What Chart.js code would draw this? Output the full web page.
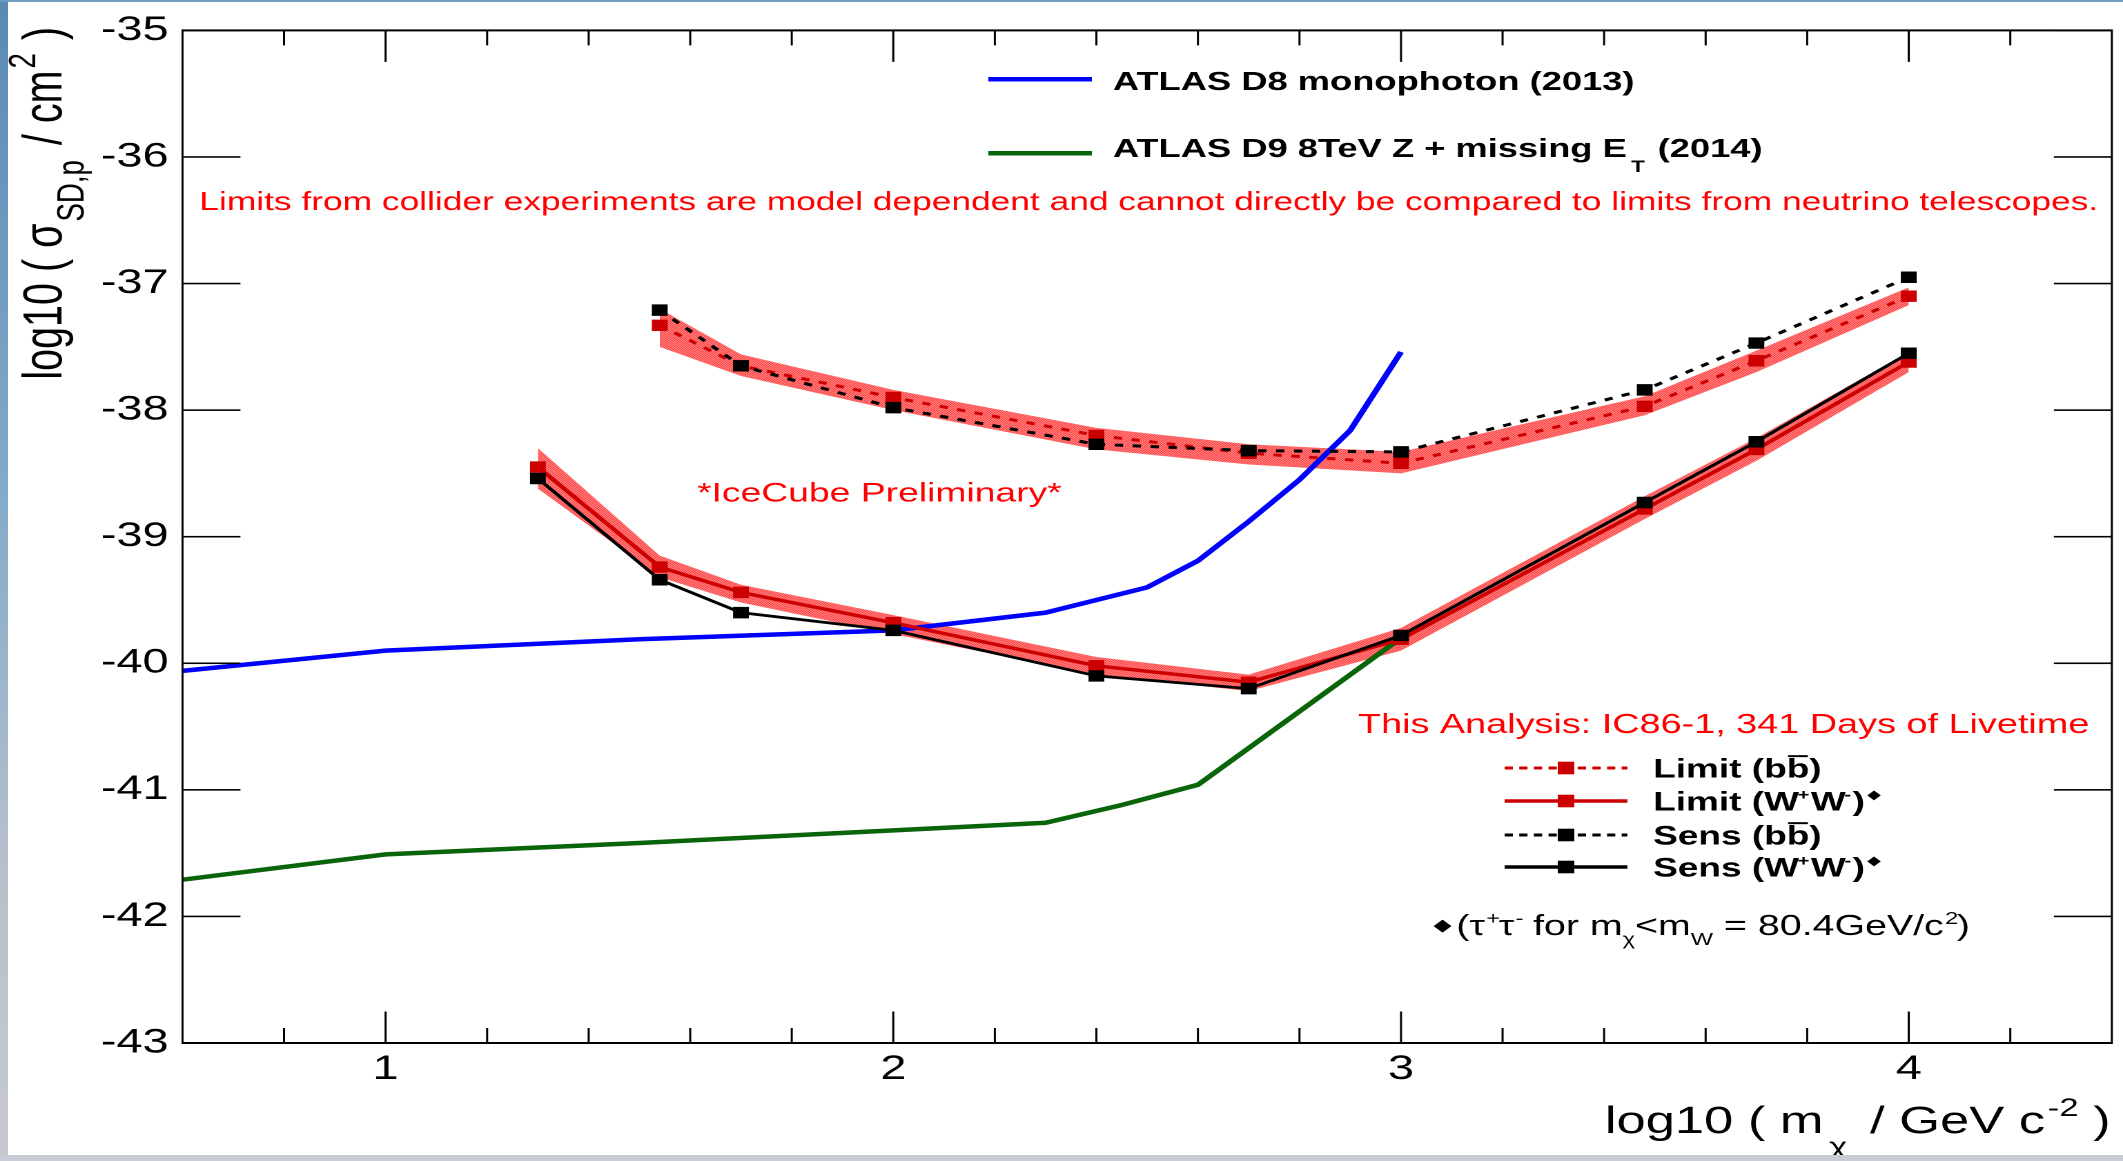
<!DOCTYPE html>
<html>
<head>
<meta charset="utf-8">
<title>IceCube spin-dependent WIMP-proton cross-section limits</title>
<script src="https://cdn.jsdelivr.net/npm/chart.js@4.4.1/dist/chart.umd.min.js"></script>
<style>
  html, body { margin: 0; padding: 0; background: #ffffff; overflow: hidden; }
  #page { position: relative; width: 2123px; height: 1161px; overflow: hidden; background: #ffffff; }
  /* the plot is laid out on a 1538 px wide stage and widened to the page width */
  #stage { position: absolute; left: 0; top: 0; width: 1538px; height: 1161px;
           transform: scaleX(1.38036); transform-origin: 0 0; }
  #edgeL { position: absolute; left: 0; top: 0; width: 8px; height: 1161px; z-index: 2;
           background: linear-gradient(#5a89b3, #7fa9c9 40%, #b7c0cc 75%, #c7c9d0); }
  #edgeT { position: absolute; left: 0; top: 0; width: 2123px; height: 2px; z-index: 2; background: #6f9cc2; }
  #edgeB { position: absolute; left: 0; top: 1155px; width: 2123px; height: 6px; z-index: 2; background: #c9ccd4; }
</style>
</head>
<body>
<div id="page">
  <div id="stage"><canvas id="chart"></canvas></div>
  <div id="edgeL"></div><div id="edgeT"></div><div id="edgeB"></div>
</div>
<script>
// ---- data: log10(m_chi / GeV) and log10(sigma_SD,p / cm^2) ----
const logMassWW = [1.30, 1.54, 1.70, 2.00, 2.40, 2.70, 3.00, 3.48, 3.70, 4.00];
const logMassBB = [1.54, 1.70, 2.00, 2.40, 2.70, 3.00, 3.48, 3.70, 4.00];

const limitBB     = [-37.33, -37.65, -37.90, -38.20, -38.34, -38.42, -37.97, -37.61, -37.10];
const sensBB      = [-37.21, -37.65, -37.98, -38.27, -38.32, -38.33, -37.84, -37.47, -36.95];
const limitBBHigh = [-37.20, -37.56, -37.84, -38.14, -38.27, -38.33, -37.89, -37.53, -37.03];
const limitBBLow  = [-37.50, -37.73, -38.00, -38.31, -38.43, -38.50, -38.04, -37.70, -37.17];

const limitWW     = [-38.45, -39.24, -39.44, -39.68, -40.02, -40.15, -39.81, -38.78, -38.31, -37.62];
const sensWW      = [-38.54, -39.34, -39.60, -39.74, -40.10, -40.20, -39.78, -38.73, -38.25, -37.55];
const limitWWHigh = [-38.30, -39.15, -39.38, -39.62, -39.95, -40.09, -39.72, -38.68, -38.22, -37.54];
const limitWWLow  = [-38.62, -39.32, -39.52, -39.77, -40.09, -40.22, -39.90, -38.86, -38.40, -37.70];

const atlasD8LogMass = [0.6, 1.0, 1.5, 2.0, 2.3, 2.5, 2.6, 2.7, 2.8, 2.9, 3.0];
const atlasD8Sigma   = [-40.06, -39.90, -39.81, -39.74, -39.60, -39.40, -39.19, -38.88, -38.55, -38.16, -37.54];
const atlasD9LogMass = [0.6, 1.0, 1.5, 2.0, 2.3, 2.45, 2.6, 3.0];
const atlasD9Sigma   = [-41.71, -41.51, -41.42, -41.32, -41.26, -41.12, -40.96, -39.80];

const xTickValues = [1, 2, 3, 4];
const yTickValues = [-43, -42, -41, -40, -39, -38, -37, -36, -35];
const xMinorStep = 0.2;

// ---- helpers ----
const FONT = "'Liberation Sans', Arial, Helvetica, sans-serif";
const pts = (xs, ys) => xs.map((x, i) => ({ x: x, y: ys[i] }));

const canvas = document.getElementById('chart');
const ctx0 = canvas.getContext('2d');

// hatched red fill used for the systematic bands
const tile = document.createElement('canvas');
tile.width = 2; tile.height = 2;
const tg = tile.getContext('2d');
tg.fillStyle = '#ffc8c8'; tg.fillRect(0, 0, 2, 2);
tg.fillStyle = '#ff0000'; tg.fillRect(0, 0, 1, 1); tg.fillRect(1, 1, 1, 1);
const bandFill = ctx0.createPattern(tile, 'repeat');

// text with sub/superscripts; parts: {t, s:'sub'|'sup', scale, dy, gap, over}
function drawRich(ctx, parts, x, y, size, weight, align) {
  const fontFor = (p) => `${weight} ${p.s ? size * (p.scale || 0.66) : (p.size || size)}px ${FONT}`;
  const widths = parts.map(p => { ctx.font = fontFor(p); return ctx.measureText(p.t).width + (p.gap || 0); });
  const total = widths.reduce((a, b) => a + b, 0);
  let cx = align === 'right' ? x - total : x;
  ctx.textAlign = 'left';
  ctx.textBaseline = 'alphabetic';
  parts.forEach((p, i) => {
    ctx.font = fontFor(p);
    let dy = 0;
    if (p.s === 'sub') dy = (p.dy !== undefined ? p.dy : size * 0.35);
    if (p.s === 'sup') dy = (p.dy !== undefined ? p.dy : -size * 0.42);
    ctx.fillText(p.t, cx + (p.pre || 0), y + dy);
    if (p.over) {
      const w = ctx.measureText(p.t).width;
      ctx.save();
      ctx.lineWidth = 2;
      ctx.strokeStyle = ctx.fillStyle;
      ctx.beginPath();
      ctx.moveTo(cx + (p.pre || 0) + 1, y - size * 0.80);
      ctx.lineTo(cx + (p.pre || 0) + w - 1, y - size * 0.80);
      ctx.stroke();
      ctx.restore();
    }
    cx += widths[i];
  });
  return total;
}

// frame and inward ticks on all four sides
const frameTicks = {
  id: 'frameTicks',
  afterDatasetsDraw(chart) {
    const { ctx, chartArea: a, scales: { x, y } } = chart;
    ctx.save();
    ctx.fillStyle = '#000000';
    const hw = 1.45, hh = 2;           // vertical / horizontal stroke thickness
    ctx.fillRect(a.left - hw / 2, a.top - hh / 2, hw, a.bottom - a.top + hh);
    ctx.fillRect(a.right - hw / 2, a.top - hh / 2, hw, a.bottom - a.top + hh);
    ctx.fillRect(a.left, a.top - hh / 2, a.right - a.left, hh);
    ctx.fillRect(a.left, a.bottom - hh / 2, a.right - a.left, hh);
    // x ticks
    for (let v = x.min + xMinorStep; v < x.max - 1e-6; v += xMinorStep) {
      const major = Math.abs(v - Math.round(v)) < 1e-6;
      const len = major ? 31.5 : 15;
      const px = x.getPixelForValue(v);
      ctx.fillRect(px - 0.75, a.bottom - len, 1.5, len);
      ctx.fillRect(px - 0.75, a.top, 1.5, len);
    }
    // y ticks
    yTickValues.forEach(v => {
      const py = y.getPixelForValue(v);
      ctx.fillRect(a.left, py - 0.8, 42, 1.6);
      ctx.fillRect(a.right - 42, py - 0.8, 42, 1.6);
    });
    ctx.restore();
  }
};

// axis titles, legends and notes
const annotations = {
  id: 'annotations',
  afterDraw(chart) {
    const ctx = chart.ctx;
    ctx.save();

    // axis titles
    ctx.fillStyle = '#000000';
    drawRich(ctx, [
      { t: 'log10 ( m' },
      { t: '\u03C7', s: 'sub', scale: 0.66, dy: 22, pre: 4, gap: 10 },
      { t: ' / GeV c' },
      { t: '-2', s: 'sup', scale: 0.66, dy: -17, pre: 2, gap: 2 },
      { t: ' )' }
    ], 1529, 1133, 38, 'normal', 'right');

    ctx.save();
    ctx.translate(44.7, 27);
    ctx.rotate(-Math.PI / 2);
    drawRich(ctx, [
      { t: 'log10 ( \u03C3' },
      { t: 'SD,p', s: 'sub', scale: 0.7, dy: 16, pre: 2, gap: 6 },
      { t: ' / cm' },
      { t: '2', s: 'sup', scale: 0.7, dy: -19, pre: 2, gap: 4 },
      { t: ' )' }
    ], 0, 0, 39.5, 'normal', 'right');
    ctx.restore();

    // collider legend
    ctx.lineWidth = 4.5;
    ctx.strokeStyle = '#0000ff';
    ctx.beginPath(); ctx.moveTo(716, 79.3); ctx.lineTo(791, 79.3); ctx.stroke();
    ctx.strokeStyle = '#0a640a';
    ctx.beginPath(); ctx.moveTo(716, 153.3); ctx.lineTo(791, 153.3); ctx.stroke();
    ctx.fillStyle = '#000000';
    drawRich(ctx, [{ t: 'ATLAS D8 monophoton (2013)' }], 806.2, 90, 26.3, 'bold', 'left');
    drawRich(ctx, [
      { t: 'ATLAS D9 8TeV Z + missing E' },
      { t: 'T', s: 'sub', scale: 0.62, dy: 15, pre: 3, gap: 5 },
      { t: ' (2014)' }
    ], 806.2, 156.8, 26.3, 'bold', 'left');

    // red notes
    ctx.fillStyle = '#ff0000';
    drawRich(ctx, [{ t: 'Limits from collider experiments are model dependent and cannot directly be compared to limits from neutrino telescopes.' }],
      144.4, 210, 25.6, 'normal', 'left');
    drawRich(ctx, [{ t: '*IceCube Preliminary*' }], 505, 501.4, 27, 'normal', 'left');
    drawRich(ctx, [{ t: 'This Analysis: IC86-1, 341 Days of Livetime' }], 983.8, 732.8, 27.4, 'normal', 'left');

    // IceCube legend
    const rows = [
      { y: 768, color: '#cc0000', dash: true,  parts: [{ t: 'Limit (b' }, { t: 'b', over: true }, { t: ')' }] },
      { y: 801, color: '#cc0000', dash: false, parts: [{ t: 'Limit (W' }, { t: '+', s: 'sup', scale: 0.55, dy: -11, pre: -1 }, { t: 'W' }, { t: '-', s: 'sup', scale: 0.55, dy: -11, pre: -1 }, { t: ')' }, { t: '\u25C6', s: 'sup', scale: 0.45, dy: -12, pre: 2 }] },
      { y: 835, color: '#000000', dash: true,  parts: [{ t: 'Sens (b' }, { t: 'b', over: true }, { t: ')' }] },
      { y: 867, color: '#000000', dash: false, parts: [{ t: 'Sens (W' }, { t: '+', s: 'sup', scale: 0.55, dy: -11, pre: -1 }, { t: 'W' }, { t: '-', s: 'sup', scale: 0.55, dy: -11, pre: -1 }, { t: ')' }, { t: '\u25C6', s: 'sup', scale: 0.45, dy: -12, pre: 2 }] }
    ];
    rows.forEach(r => {
      ctx.save();
      ctx.strokeStyle = r.color;
      ctx.fillStyle = r.color;
      ctx.lineWidth = r.dash ? 3 : 3.5;
      ctx.setLineDash(r.dash ? [6, 4.6] : []);
      ctx.beginPath(); ctx.moveTo(1090, r.y); ctx.lineTo(1179, r.y); ctx.stroke();
      ctx.setLineDash([]);
      ctx.fillRect(1134.5 - 6, r.y - 6.3, 12, 12.6);
      ctx.restore();
      ctx.fillStyle = '#000000';
      drawRich(ctx, r.parts, 1197.6, r.y + 9.6, 26.8, 'bold', 'left');
    });

    // footnote
    ctx.fillStyle = '#000000';
    ctx.font = `17px 'DejaVu Sans', ${FONT}`;
    ctx.textAlign = 'center';
    ctx.textBaseline = 'middle';
    ctx.fillText('\u25C6', 1045, 926);
    drawRich(ctx, [
      { t: '(\u03C4' },
      { t: '+', s: 'sup', scale: 0.6, dy: -11, pre: 1 },
      { t: '\u03C4' },
      { t: '-', s: 'sup', scale: 0.6, dy: -11, pre: 1 },
      { t: ' for m' },
      { t: '\u03C7', s: 'sub', scale: 0.6, dy: 10 },
      { t: '<m' },
      { t: 'W', s: 'sub', scale: 0.6, dy: 10 },
      { t: ' = 80.4GeV/c' },
      { t: '2', s: 'sup', scale: 0.6, dy: -11, pre: 1 },
      { t: ')' }
    ], 1055, 935, 28.5, 'normal', 'left');

    ctx.restore();
  }
};

new Chart(canvas, {
  type: 'line',
  data: {
    datasets: [
      { label: 'bbBandHigh', data: pts(logMassBB, limitBBHigh), borderColor: 'rgba(0,0,0,0)', borderWidth: 0, pointRadius: 0, fill: false, order: 10 },
      { label: 'bbBandLow',  data: pts(logMassBB, limitBBLow),  borderColor: 'rgba(0,0,0,0)', borderWidth: 0, pointRadius: 0, fill: '-1', backgroundColor: bandFill, order: 10 },
      { label: 'wwBandHigh', data: pts(logMassWW, limitWWHigh), borderColor: 'rgba(0,0,0,0)', borderWidth: 0, pointRadius: 0, fill: false, order: 10 },
      { label: 'wwBandLow',  data: pts(logMassWW, limitWWLow),  borderColor: 'rgba(0,0,0,0)', borderWidth: 0, pointRadius: 0, fill: '-1', backgroundColor: bandFill, order: 10 },
      { label: 'ATLAS D8 monophoton (2013)', data: pts(atlasD8LogMass, atlasD8Sigma), borderColor: '#0000ff', borderWidth: 4.5, pointRadius: 0, fill: false, order: 6 },
      { label: 'ATLAS D9 8TeV Z + missing E_T (2014)', data: pts(atlasD9LogMass, atlasD9Sigma), borderColor: '#0a640a', borderWidth: 4.5, pointRadius: 0, fill: false, order: 6 },
      { label: 'Limit (bb)', data: pts(logMassBB, limitBB), borderColor: '#cc0000', borderWidth: 3, borderDash: [6, 7],
        pointStyle: 'rect', pointRadius: 8.1, pointBackgroundColor: '#cc0000', pointBorderWidth: 0, fill: false, order: 4 },
      { label: 'Limit (W+W-)', data: pts(logMassWW, limitWW), borderColor: '#cc0000', borderWidth: 3.5,
        pointStyle: 'rect', pointRadius: 8.1, pointBackgroundColor: '#cc0000', pointBorderWidth: 0, fill: false, order: 4 },
      { label: 'Sens (bb)', data: pts(logMassBB, sensBB), borderColor: '#000000', borderWidth: 3, borderDash: [6, 7],
        pointStyle: 'rect', pointRadius: 8.1, pointBackgroundColor: '#000000', pointBorderWidth: 0, fill: false, order: 2 },
      { label: 'Sens (W+W-)', data: pts(logMassWW, sensWW), borderColor: '#000000', borderWidth: 2.8,
        pointStyle: 'rect', pointRadius: 8.1, pointBackgroundColor: '#000000', pointBorderWidth: 0, fill: false, order: 2 }
    ]
  },
  options: {
    responsive: true,
    maintainAspectRatio: false,
    devicePixelRatio: 2,
    animation: false,
    events: [],
    layout: { padding: { left: 0, top: 25, right: 6, bottom: 0 } },
    elements: { line: { tension: 0 } },
    plugins: { legend: { display: false }, tooltip: { enabled: false }, title: { display: false } },
    scales: {
      x: {
        type: 'linear', position: 'bottom', min: 0.6, max: 4.4,
        grid: { display: false, drawTicks: false },
        border: { display: false },
        afterBuildTicks: (s) => { s.ticks = xTickValues.map(v => ({ value: v })); },
        afterFit: (s) => { s.height = 118; },
        ticks: { color: '#000000', padding: 6, maxRotation: 0, font: { family: FONT, size: 34 }, callback: (v) => String(v) }
      },
      y: {
        type: 'linear', position: 'left', min: -43, max: -35,
        grid: { display: false, drawTicks: false },
        border: { display: false },
        afterBuildTicks: (s) => { s.ticks = yTickValues.map(v => ({ value: v })); },
        afterFit: (s) => { s.width = 132.2; },
        ticks: { color: '#000000', padding: 10, font: { family: FONT, size: 34 }, callback: (v) => String(v) }
      }
    }
  },
  plugins: [frameTicks, annotations]
});
</script>
</body>
</html>
